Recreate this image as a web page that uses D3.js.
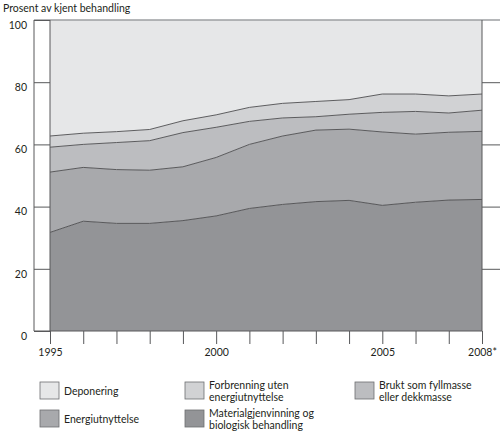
<!DOCTYPE html>
<html lang="no">
<head>
  <meta charset="UTF-8">
  <title>Prosent av kjent behandling</title>
  <script src="https://d3js.org/d3.v7.min.js"></script>
  <style>
    body {
      margin: 0;
      background: white;
      font-family: "Lato", sans-serif;
    }
    svg text {
      fill: #231f20;
      font-family: "Lato", sans-serif;
      font-size: 10.5px;
    }
  </style>
</head>
<body>
  <svg width="500" height="444"></svg>
  <script>
    const years = [1995, 1996, 1997, 1998, 1999, 2000, 2001, 2002, 2003, 2004, 2005, 2006, 2007, 2008];
    const yearLabels = { 1995: "1995", 2000: "2000", 2005: "2005", 2008: "2008*" };
    const yTicks = [0, 20, 40, 60, 80, 100];

    // shares in percent, bottom layer first
    const materialgjenvinning = [31.7, 35.3, 34.6, 34.6, 35.5, 37.0, 39.4, 40.7, 41.6, 42.0, 40.4, 41.4, 42.1, 42.3];
    const energiutnyttelse = [19.4, 17.3, 17.3, 17.1, 17.3, 18.8, 20.6, 22.0, 23.0, 22.9, 23.6, 21.9, 21.8, 21.9];
    const fyllmasse = [8.0, 7.4, 8.7, 9.5, 11.0, 9.7, 7.4, 5.8, 4.3, 4.8, 6.3, 7.3, 6.2, 6.8];
    const forbrenning = [3.6, 3.6, 3.5, 3.6, 3.8, 4.0, 4.5, 4.7, 4.9, 4.7, 5.9, 5.6, 5.5, 5.2];
    const deponering = [37.3, 36.4, 35.9, 35.2, 32.4, 30.5, 28.1, 26.8, 26.2, 25.6, 23.8, 23.8, 24.4, 23.8];

    const series = [
      { key: "mat", values: materialgjenvinning, color: "#939497", label: ["Materialgjenvinning og", "biologisk behandling"] },
      { key: "energi", values: energiutnyttelse, color: "#a8a9ac", label: ["Energiutnyttelse"] },
      { key: "fyll", values: fyllmasse, color: "#bcbdc0", label: ["Brukt som fyllmasse", "eller dekkmasse"] },
      { key: "forbr", values: forbrenning, color: "#d1d2d4", label: ["Forbrenning uten", "energiutnyttelse"] },
      { key: "depon", values: deponering, color: "#e6e7e8", label: ["Deponering"] }
    ];

    const rows = years.map((yr, i) => {
      const r = { year: yr };
      series.forEach(s => r[s.key] = s.values[i]);
      return r;
    });

    const svg = d3.select("svg");
    const x = d3.scaleLinear().domain([1995, 2008]).range([50, 482]);
    const y = d3.scaleLinear().domain([0, 100]).range([331, 20]);

    const stacked = d3.stack().keys(series.map(s => s.key))(rows);

    const area = d3.area()
      .x(d => x(d.data.year))
      .y0(d => y(d[0]))
      .y1(d => y(d[1]));

    svg.append("g").selectAll("path")
      .data(stacked)
      .join("path")
      .attr("d", area)
      .attr("fill", (d, i) => series[i].color);

    // boundary lines between layers
    const line = d3.line()
      .x(d => x(d.data.year))
      .y(d => y(d[1]));

    svg.append("g").selectAll("path")
      .data(stacked.slice(0, -1))
      .join("path")
      .attr("d", line)
      .attr("fill", "none")
      .attr("stroke", "#4d4d4f")
      .attr("stroke-width", 0.9);

    // frame
    svg.append("line")
      .attr("x1", 34).attr("x2", 500)
      .attr("y1", y(100)).attr("y2", y(100))
      .attr("stroke", "#9d9fa2").attr("stroke-width", 1.5);
    svg.append("line")
      .attr("x1", 34).attr("x2", 34)
      .attr("y1", y(100)).attr("y2", y(0))
      .attr("stroke", "#58595b");
    svg.append("line")
      .attr("x1", x(1995)).attr("x2", x(1995))
      .attr("y1", y(100)).attr("y2", y(0))
      .attr("stroke", "#58595b");
    svg.append("line")
      .attr("x1", x(2008)).attr("x2", x(2008))
      .attr("y1", y(100)).attr("y2", y(0))
      .attr("stroke", "#58595b");

    // left axis
    const left = svg.append("g")
      .attr("transform", `translate(${x(1995)},0)`)
      .call(d3.axisLeft(y).tickValues(yTicks).tickSize(16).tickPadding(7));
    left.select(".domain").remove();
    left.selectAll(".tick line").attr("stroke", "#58595b");
    left.selectAll(".tick text")
      .attr("y", 5)
      .style("font-family", "Lato, sans-serif")
      .style("font-size", "10.5px")
      .attr("fill", "#231f20");

    // right axis
    const right = svg.append("g")
      .attr("transform", `translate(${x(2008)},0)`)
      .call(d3.axisRight(y).tickValues(yTicks.slice(1, -1)).tickSize(18).tickFormat(""));
    right.select(".domain").remove();
    right.selectAll(".tick line").attr("stroke", "#58595b");

    // bottom axis
    const bottom = svg.append("g")
      .attr("transform", `translate(0,${y(0)})`)
      .call(d3.axisBottom(x).tickValues(years).tickSize(13).tickPadding(5)
        .tickFormat(d => yearLabels[d] || ""));
    bottom.select(".domain").remove();
    bottom.selectAll(".tick line").attr("stroke", "#58595b");
    bottom.selectAll(".tick text")
      .style("font-family", "Lato, sans-serif")
      .style("font-size", "10.5px")
      .attr("fill", "#231f20");
    svg.append("line")
      .attr("x1", 34).attr("x2", x(2008))
      .attr("y1", y(0)).attr("y2", y(0))
      .attr("stroke", "#58595b");

    // title
    svg.append("text")
      .attr("x", 3).attr("y", 12)
      .text("Prosent av kjent behandling");

    // legend
    const legendOrder = ["depon", "forbr", "fyll", "energi", "mat"];
    const colX = [40, 185, 355];
    const rowY = [382, 410];
    const legend = svg.append("g").selectAll("g")
      .data(legendOrder.map(k => series.find(s => s.key === k)))
      .join("g")
      .attr("transform", (d, i) => `translate(${colX[i % 3]},${rowY[Math.floor(i / 3)]})`);

    legend.append("rect")
      .attr("width", 19).attr("height", 17)
      .attr("fill", d => d.color)
      .attr("stroke", "#6d6e71").attr("stroke-width", 0.8);

    legend.selectAll("text")
      .data(d => d.label.map((t, i) => ({ t, i, n: d.label.length })))
      .join("text")
      .attr("x", 24)
      .attr("y", d => d.n === 1 ? 12.5 : 6.5 + d.i * 12.5)
      .text(d => d.t);
  </script>
</body>
</html>
